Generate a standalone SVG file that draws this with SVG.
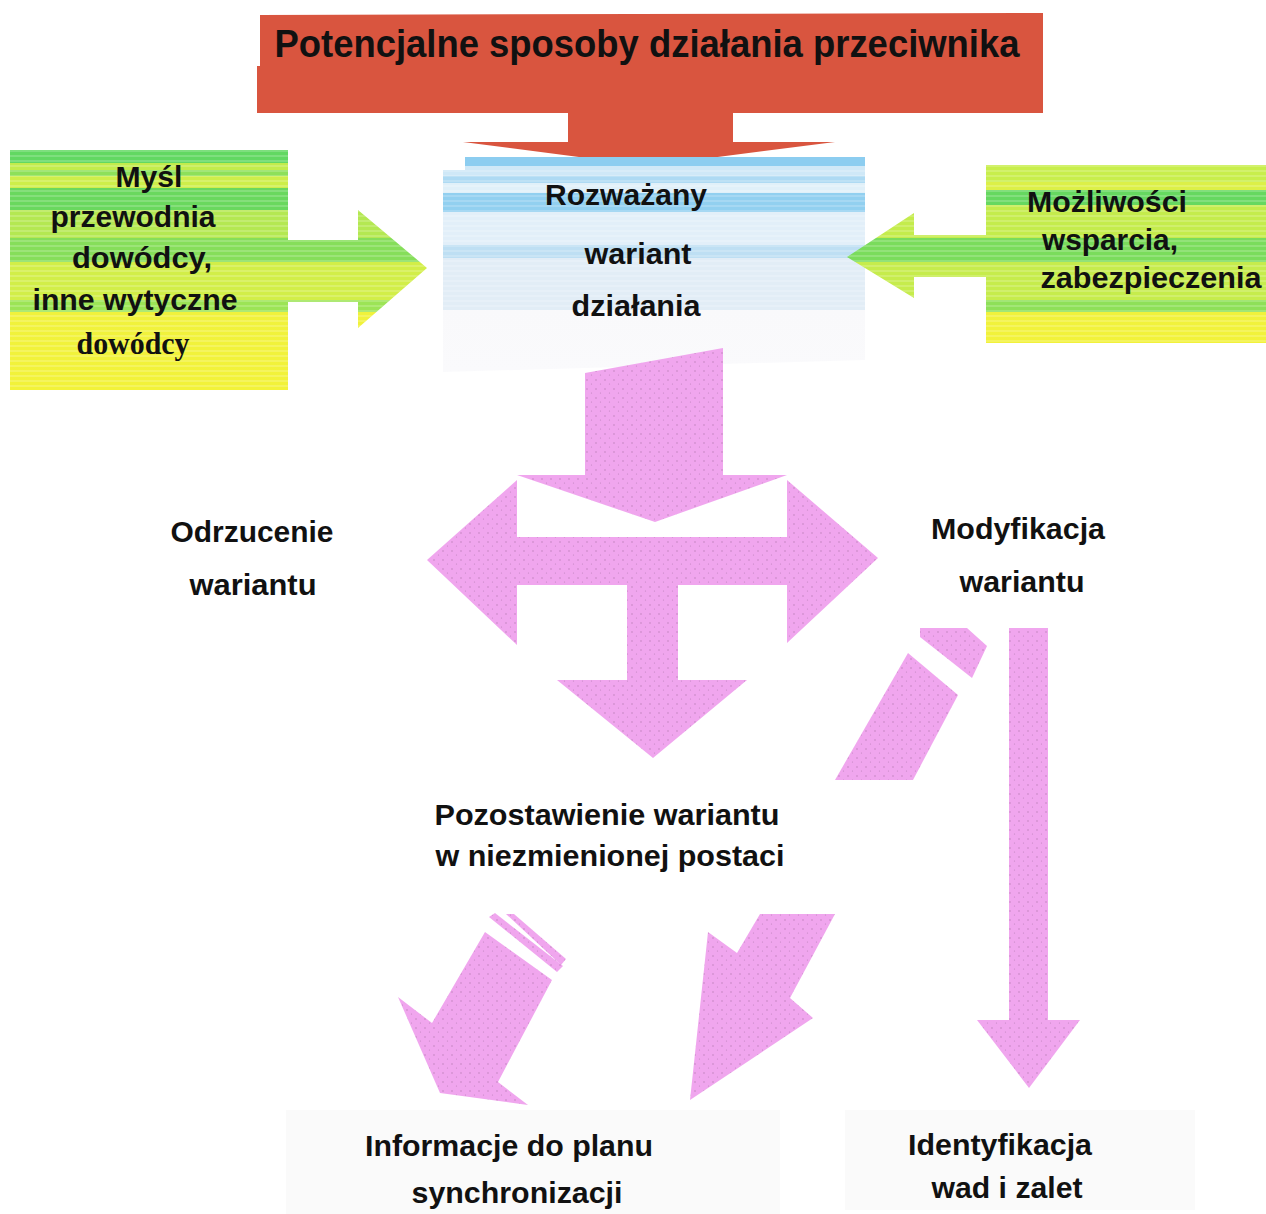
<svg xmlns="http://www.w3.org/2000/svg" width="1266" height="1214" viewBox="0 0 1266 1214">
<defs>
<style>
.t{font-family:"Liberation Sans",Arial,sans-serif;font-weight:bold;font-size:29px;fill:#111;text-anchor:middle}
.tt{font-size:38px}
.ts{font-family:"Liberation Serif","Times New Roman",serif;font-weight:bold;font-size:31px;fill:#111;text-anchor:middle}
.pink{fill:url(#dots)}
</style>
<pattern id="dots" width="9" height="9" patternUnits="userSpaceOnUse">
<rect width="9" height="9" fill="#f0a6ee"/>
<circle cx="2" cy="2" r="0.7" fill="#8a5a86" opacity="0.55"/>
<circle cx="6.5" cy="6" r="0.6" fill="#8a5a86" opacity="0.45"/>
</pattern>
<pattern id="lines" width="6" height="5" patternUnits="userSpaceOnUse">
<rect width="6" height="2" fill="#ffffff" opacity="0.18"/>
</pattern>
<linearGradient id="gl" gradientUnits="userSpaceOnUse" x1="0" y1="150" x2="0" y2="390">
<stop offset="0" stop-color="#62d862"/><stop offset=".054" stop-color="#62d862"/>
<stop offset=".054" stop-color="#c2ec4c"/><stop offset=".083" stop-color="#c2ec4c"/>
<stop offset=".083" stop-color="#8de05a"/><stop offset=".108" stop-color="#8de05a"/>
<stop offset=".108" stop-color="#cdee4a"/><stop offset=".158" stop-color="#cdee4a"/>
<stop offset=".158" stop-color="#6ad85e"/><stop offset=".25" stop-color="#6ad85e"/>
<stop offset=".25" stop-color="#b4e852"/><stop offset=".367" stop-color="#b4e852"/>
<stop offset=".367" stop-color="#86de5a"/><stop offset=".467" stop-color="#86de5a"/>
<stop offset=".467" stop-color="#d2ee48"/><stop offset=".625" stop-color="#d2ee48"/>
<stop offset=".625" stop-color="#9ce456"/><stop offset=".675" stop-color="#9ce456"/>
<stop offset=".675" stop-color="#f0f23c"/><stop offset="1" stop-color="#f2f23a"/>
</linearGradient>
<linearGradient id="gr" gradientUnits="userSpaceOnUse" x1="0" y1="165" x2="0" y2="343">
<stop offset="0" stop-color="#c8ee4c"/><stop offset=".096" stop-color="#c8ee4c"/>
<stop offset=".096" stop-color="#dcf048"/><stop offset=".14" stop-color="#dcf048"/>
<stop offset=".14" stop-color="#66d860"/><stop offset=".225" stop-color="#66d860"/>
<stop offset=".225" stop-color="#c4ec4c"/><stop offset=".41" stop-color="#c4ec4c"/>
<stop offset=".41" stop-color="#7adc5c"/><stop offset=".545" stop-color="#7adc5c"/>
<stop offset=".545" stop-color="#c6ec4c"/><stop offset=".758" stop-color="#c6ec4c"/>
<stop offset=".758" stop-color="#8ee058"/><stop offset=".826" stop-color="#8ee058"/>
<stop offset=".826" stop-color="#f0f23c"/><stop offset="1" stop-color="#f2f23a"/>
</linearGradient>
<linearGradient id="gc" gradientUnits="userSpaceOnUse" x1="0" y1="155" x2="0" y2="372">
<stop offset="0" stop-color="#8ccdf0"/><stop offset=".051" stop-color="#8ccdf0"/>
<stop offset=".051" stop-color="#cfe8f7"/><stop offset=".097" stop-color="#cfe8f7"/>
<stop offset=".097" stop-color="#aedaf3"/><stop offset=".129" stop-color="#aedaf3"/>
<stop offset=".129" stop-color="#e0f0f9"/><stop offset=".175" stop-color="#e0f0f9"/>
<stop offset=".175" stop-color="#92d0f0"/><stop offset=".263" stop-color="#92d0f0"/>
<stop offset=".263" stop-color="#e2eff9"/><stop offset=".415" stop-color="#e2eff9"/>
<stop offset=".415" stop-color="#bedff3"/><stop offset=".475" stop-color="#bedff3"/>
<stop offset=".475" stop-color="#e2edf6"/><stop offset=".714" stop-color="#e2edf6"/>
<stop offset=".714" stop-color="#f9f9fb"/><stop offset="1" stop-color="#fafafc"/>
</linearGradient>
</defs>
<rect width="1266" height="1214" fill="#ffffff"/>

<g id="node-przeciwnik">
<path d="M260,15 L1043,13 L1043,113 L733,113 L733,142 L835,142 L648,166 L463,142 L568,142 L568,113 L257,113 L257,66 L260,66 Z" fill="#d9553f"/>
<text class="t tt" x="647" y="57" textLength="745" lengthAdjust="spacingAndGlyphs">Potencjalne sposoby działania przeciwnika</text>
</g>

<g id="node-mysl">
<path d="M10,150 L288,150 L288,240 L358,240 L358,210 L427,268 L358,328 L358,302 L288,302 L288,390 L10,390 Z" fill="url(#gl)"/>
<path d="M10,150 L288,150 L288,240 L358,240 L358,210 L427,268 L358,328 L358,302 L288,302 L288,390 L10,390 Z" fill="url(#lines)"/>
<text class="t" x="149" y="187" textLength="67" lengthAdjust="spacingAndGlyphs">Myśl</text>
<text class="t" x="133" y="227" textLength="165" lengthAdjust="spacingAndGlyphs">przewodnia</text>
<text class="t" x="142" y="268" textLength="140" lengthAdjust="spacingAndGlyphs">dowódcy,</text>
<text class="t" x="135" y="310" textLength="205" lengthAdjust="spacingAndGlyphs">inne wytyczne</text>
<text class="ts" x="133" y="354" textLength="113" lengthAdjust="spacingAndGlyphs">dowódcy</text>
</g>

<g id="node-wariant">
<path d="M465,157 L865,157 L865,360 L443,372 L443,170 L465,170 Z" fill="url(#gc)"/>
<path d="M443,170 L865,170 L865,310 L443,310 Z" fill="url(#lines)"/>
<text class="t" x="626" y="205" textLength="162" lengthAdjust="spacingAndGlyphs">Rozważany</text>
<text class="t" x="638" y="264" textLength="107" lengthAdjust="spacingAndGlyphs">wariant</text>
<text class="t" x="636" y="316" textLength="129" lengthAdjust="spacingAndGlyphs">działania</text>
</g>

<g id="node-mozliwosci">
<path d="M986,165 L1266,165 L1266,343 L986,343 L986,277 L914,277 L914,298 L847,257 L914,213 L914,235 L986,235 Z" fill="url(#gr)"/>
<path d="M986,165 L1266,165 L1266,343 L986,343 L986,277 L914,277 L914,298 L847,257 L914,213 L914,235 L986,235 Z" fill="url(#lines)"/>
<text class="t" x="1107" y="212" textLength="160" lengthAdjust="spacingAndGlyphs">Możliwości</text>
<text class="t" x="1110" y="250" textLength="136" lengthAdjust="spacingAndGlyphs">wsparcia,</text>
<text class="t" x="1151" y="288" textLength="221" lengthAdjust="spacingAndGlyphs">zabezpieczenia</text>
</g>

<g id="connectors">
<polygon class="pink" points="585,373 723,348 723,475 585,475"/>
<polygon class="pink" points="517,475 787,475 655,522"/>
<polygon class="pink" points="427,560 517,480 517,537 787,537 787,480 878,558 787,643 787,585 517,585 517,645"/>
<polygon class="pink" points="627,585 678,585 678,680 747,680 653,758 557,680 627,680"/>
<polygon class="pink" points="908,653 958,695 913,780 835,780"/>
<polygon class="pink" points="920,628 967,628 987,646 972,678 920,637"/>
<polygon class="pink" points="1009,628 1048,628 1048,1020 1080,1020 1029,1088 977,1020 1009,1020"/>
<polygon class="pink" points="485,932 552,980 498,1082 528,1105 440,1093 398,997 432,1023"/>
<polygon class="pink" points="489,917 495,913 563,966 557,972"/>
<polygon class="pink" points="506,914 514,914 566,959 561,965"/>
<polygon class="pink" points="708,932 737,953 760,914 835,914 790,998 813,1018 690,1100"/>
</g>

<g id="node-odrzucenie">
<text class="t" x="252" y="542" textLength="163" lengthAdjust="spacingAndGlyphs">Odrzucenie</text>
<text class="t" x="253" y="595" textLength="127" lengthAdjust="spacingAndGlyphs">wariantu</text>
</g>

<g id="node-modyfikacja">
<text class="t" x="1018" y="539" textLength="174" lengthAdjust="spacingAndGlyphs">Modyfikacja</text>
<text class="t" x="1022" y="592" textLength="125" lengthAdjust="spacingAndGlyphs">wariantu</text>
</g>

<g id="node-pozostawienie">
<text class="t" x="607" y="825" textLength="345" lengthAdjust="spacingAndGlyphs">Pozostawienie wariantu</text>
<text class="t" x="610" y="866" textLength="349" lengthAdjust="spacingAndGlyphs">w niezmienionej postaci</text>
</g>

<g id="node-informacje">
<rect x="286" y="1110" width="494" height="104" fill="#fafafa"/>
<text class="t" x="509" y="1156" textLength="288" lengthAdjust="spacingAndGlyphs">Informacje do planu</text>
<text class="t" x="517" y="1203" textLength="211" lengthAdjust="spacingAndGlyphs">synchronizacji</text>
</g>

<g id="node-identyfikacja">
<rect x="845" y="1110" width="350" height="100" fill="#fafafa"/>
<text class="t" x="1000" y="1155" textLength="184" lengthAdjust="spacingAndGlyphs">Identyfikacja</text>
<text class="t" x="1007" y="1198" textLength="151" lengthAdjust="spacingAndGlyphs">wad i zalet</text>
</g>
</svg>
